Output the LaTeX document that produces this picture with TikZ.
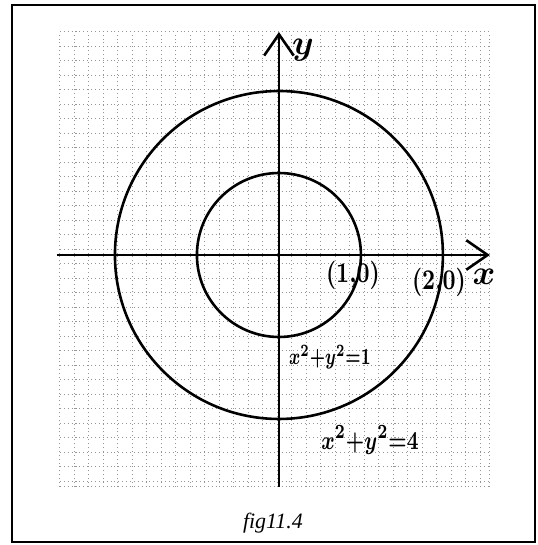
\documentclass[tikz,border=0pt]{standalone}
\usepackage{fontspec}
\usepackage{amsmath}
\usepackage{graphicx}
\usepackage{xcolor}
\usepackage{tikz}
\usetikzlibrary{arrows.meta,positioning,calc}
\newfontfamily\capfont{Liberation Serif}
\definecolor{gridgray}{RGB}{150,150,150}

\begin{document}
\begin{tikzpicture}[
  gridline/.style={gridgray,densely dotted,line width=0.35pt},
  axis/.style={-{Straight Barb[length=2.6mm,width=3.6mm]},line width=0.9pt},
  curve/.style={line width=0.9pt},
  hand/.style={inner sep=0pt}]
\useasboundingbox (-3.402,-3.537) rectangle (3.159,3.110);
% outer frame
\draw[line width=0.7pt] (-3.256,-3.500) rectangle (3.122,3.049);
% squared paper
\foreach \i in {0,...,29}
  \draw[gridline] ({-2.671+\i*0.1768},-2.829) -- ++(0,5.549);
\draw[gridline] (2.573,-2.829) -- ++(0,5.549);
\foreach \j in {0,...,31}
  \draw[gridline] (-2.671,{2.720-\j*0.1768}) -- ++(5.244,0);
\draw[gridline] (-2.671,-2.829) -- ++(5.244,0);
% axes
\coordinate (xs) at (-2.707,0);
\coordinate (xe) at (2.573,0);
\coordinate (ys) at (0,-2.829);
\coordinate (ye) at (0,2.720);
\draw[axis] (xs) -- (xe);
\draw[axis] (ys) -- (ye);
% circles
\coordinate (o) at (0,0);
\draw[curve] (o) circle (1);
\draw[curve] (o) circle (2);
% labels
\node[hand,font=\fontsize{12}{12}\selectfont\boldmath] (ylab) at (0.293,2.50) {$y$};
\node[hand,font=\fontsize{12}{12}\selectfont\boldmath] (xlab) at (2.50,-0.27) {$x$};
\node[hand,font=\fontsize{9}{9}\selectfont\boldmath] (p1) at (0.902,-0.244) {\scalebox{0.85}[1.1]{$(1{,}0)$}};
\node[hand,font=\fontsize{9}{9}\selectfont\boldmath] (p2) at (1.951,-0.329) {\scalebox{0.85}[1.1]{$(2{,}0)$}};
\node[hand,font=\fontsize{8}{8}\selectfont\boldmath] (eq1) at (0.622,-1.244) {\scalebox{0.7}[1]{$x^2{+}y^2{=}1$}};
\node[hand,font=\fontsize{9.5}{9.5}\selectfont\boldmath] (eq4) at (1.110,-2.256) {\scalebox{0.77}[1]{$x^2{+}y^2{=}4$}};
\node[inner sep=0pt,font=\capfont\itshape\fontsize{7.6}{7.6}\selectfont] (cap) at (-0.073,-3.268) {fig11.4};
\end{tikzpicture}
\end{document}
